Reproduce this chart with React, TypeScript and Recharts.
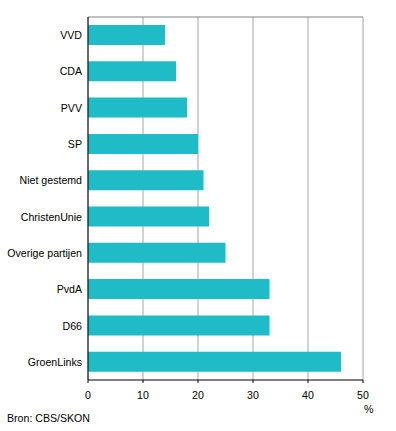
import { Bar, BarChart, CartesianGrid, XAxis, YAxis } from "recharts";

const parties = [
  "VVD",
  "CDA",
  "PVV",
  "SP",
  "Niet gestemd",
  "ChristenUnie",
  "Overige partijen",
  "PvdA",
  "D66",
  "GroenLinks",
];
const shares = [14, 16, 18, 20, 21, 22, 25, 33, 33, 46];
const xTicks = [0, 10, 20, 30, 40, 50];

const font = "'Liberation Sans', Arial, sans-serif";
const fs = 10.6;

// plain svg text so long labels don't wrap
const PartyTick = (props: any) => {
  const { x, y, payload } = props;
  return (
    <text x={x} y={y} dy={4} textAnchor="end" fontSize={fs} fill="#000" fontFamily={font}>
      {payload.value}
    </text>
  );
};

export default function App() {
  const data = parties.map((party, i) => ({ party, share: shares[i] }));

  return (
    <div
      style={{
        position: "absolute",
        left: 0,
        top: 0,
        width: 396,
        height: 431,
        background: "#fff",
        fontFamily: font,
      }}
    >
      <BarChart
        width={396}
        height={431}
        data={data}
        layout="vertical"
        margin={{ top: 17, right: 33, bottom: 31, left: 0 }}
      >
        {/* vertical grid, the tick at 50 doubles as right border */}
        <CartesianGrid horizontal={false} stroke="#a6a6a6" strokeWidth={1} />
        {/* top border */}
        <CartesianGrid
          vertical={false}
          stroke="#808080"
          horizontalCoordinatesGenerator={() => [17]}
        />
        <XAxis
          type="number"
          domain={[0, 50]}
          ticks={xTicks}
          interval={0}
          height={20}
          axisLine={{ stroke: "#000" }}
          tickLine={{ stroke: "#000" }}
          tickSize={3}
          tickMargin={8}
          tick={{ fontSize: fs, fill: "#000", fontFamily: font }}
        />
        <YAxis
          type="category"
          dataKey="party"
          width={88}
          axisLine={{ stroke: "#000" }}
          tickLine={false}
          tickSize={0}
          tickMargin={6}
          interval={0}
          tick={<PartyTick />}
        />
        <Bar dataKey="share" fill="#1fbbc6" barSize={20} isAnimationActive={false} />
      </BarChart>
      <div
        style={{
          position: "absolute",
          left: 364,
          top: 403,
          fontSize: fs,
          lineHeight: "13px",
        }}
      >
        %
      </div>
      <div
        style={{
          position: "absolute",
          left: 7,
          top: 412,
          fontSize: fs,
          lineHeight: "13px",
        }}
      >
        Bron: CBS/SKON
      </div>
    </div>
  );
}
